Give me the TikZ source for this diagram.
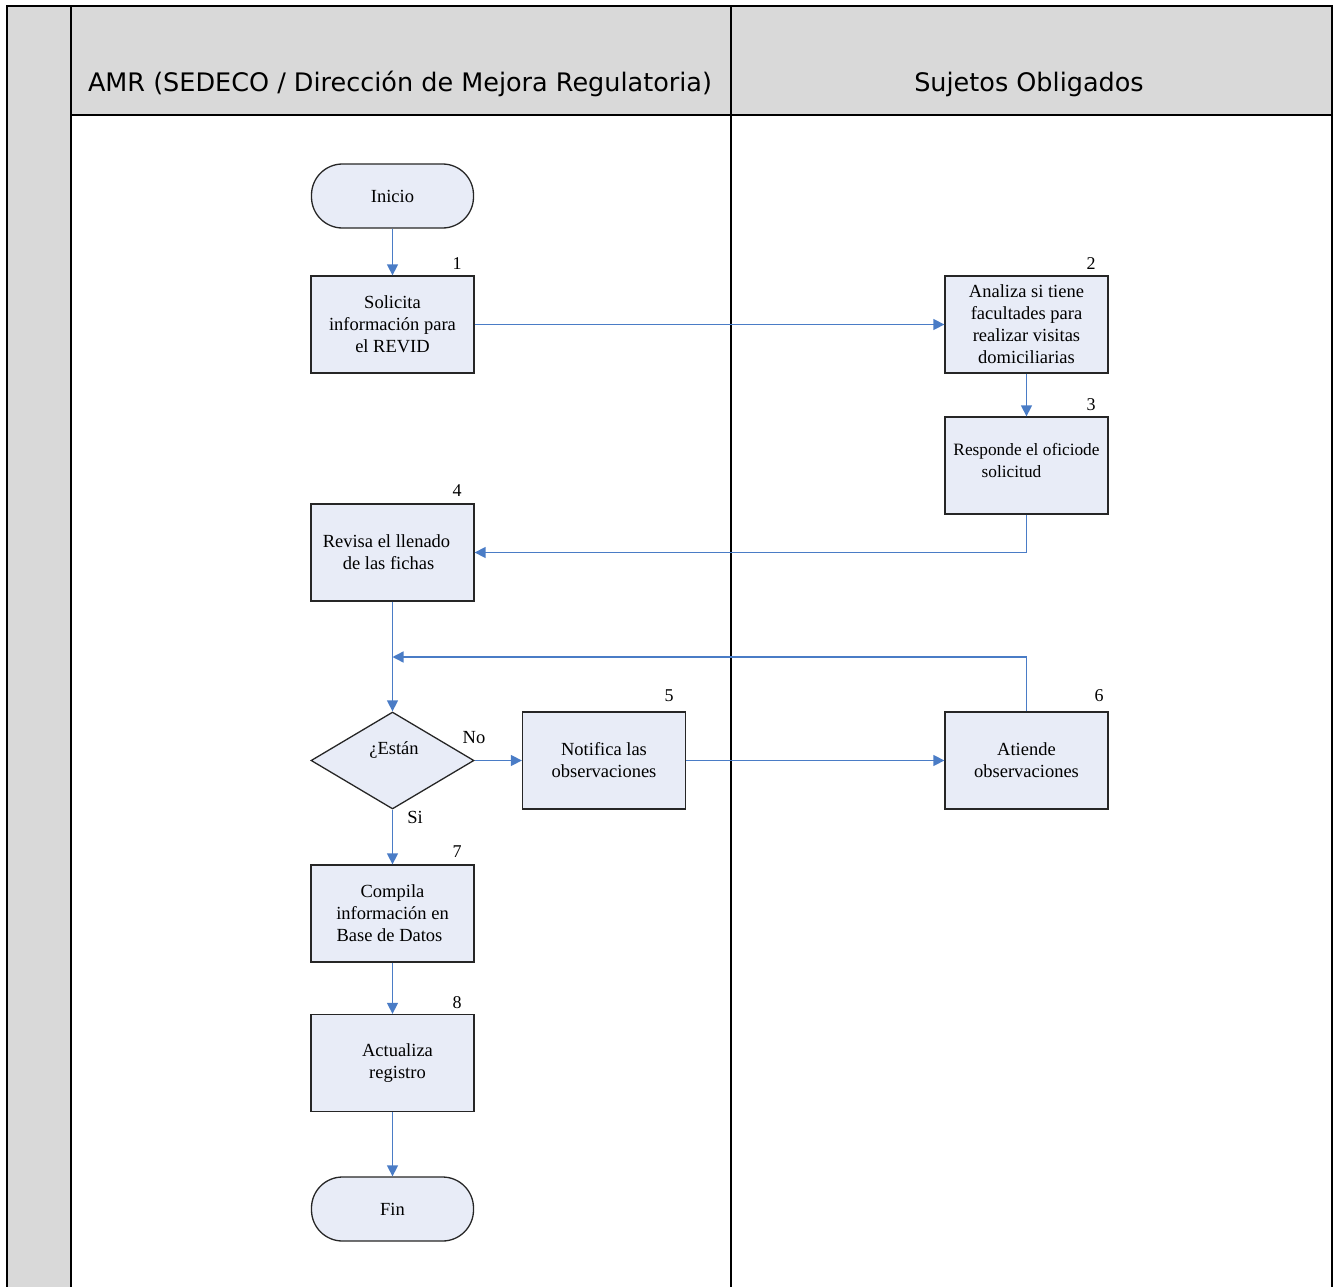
\documentclass[tikz,border=0pt]{standalone}
\usepackage{fontspec}
\setmainfont{Liberation Serif}
\newfontfamily\hdrfont{DejaVu Sans}
\usetikzlibrary{arrows.meta,shapes.geometric}
\definecolor{lanegray}{HTML}{D9D9D9}
\definecolor{boxfill}{HTML}{E8ECF7}
\definecolor{flowblue}{HTML}{4A7CC6}
\tikzset{
  procbox/.style={draw=black!85, line width=1.3pt, fill=boxfill, minimum width=163pt, minimum height=97pt, inner sep=2pt, align=center, font=\fontsize{18.5}{22}\selectfont},
  termbox/.style={draw=black!85, line width=1.3pt, fill=boxfill, rounded corners=31pt, minimum width=162pt, minimum height=64pt, font=\fontsize{18.5}{22}\selectfont},
  decbox/.style={diamond, draw=black!85, line width=1.3pt, fill=boxfill, minimum width=163pt, minimum height=97pt, inner sep=0pt},
  numlbl/.style={font=\fontsize{18}{18}\selectfont, inner sep=0pt},
  txtlbl/.style={font=\fontsize{18.5}{22}\selectfont, inner sep=0pt, align=center},
  flow/.style={draw=flowblue, line width=1.4pt, -{Triangle[length=11pt,width=11pt]}},
  hdr/.style={font=\hdrfont\fontsize{25.5}{28}\selectfont, inner sep=0pt},
}
\begin{document}
\begin{tikzpicture}[x=1pt,y=-1pt]
\useasboundingbox (0,0) rectangle (1333,1287);
% lanes
\fill[lanegray] (7,6) rectangle (71,1287);
\fill[lanegray] (71,6) rectangle (1332,115);
\draw[line width=1.8pt] (7,1287) -- (7,6) -- (1332,6) -- (1332,1287);
\draw[line width=1.8pt] (71,6) -- (71,1287);
\draw[line width=1.8pt] (731,6) -- (731,1287);
\draw[line width=1.5pt] (71,115) -- (1332,115);
\node[hdr] (h1) at (400,84) {AMR (SEDECO / Dirección de Mejora Regulatoria)};
\node[hdr] (h2) at (1029,84) {Sujetos Obligados};
% nodes
\node[termbox] (ini) at (392.5,196) {Inicio};
\node[procbox] (b1) at (392.5,324.5) {Solicita\\información para\\el REVID};
\node[procbox] (b2) at (1026.5,324.5) {Analiza si tiene\\facultades para\\realizar visitas\\domiciliarias};
\node[procbox, text depth=10pt, font=\fontsize{17.3}{22}\selectfont] (b3) at (1026.5,465.5) {Responde el oficiode\\solicitud\hspace*{30pt}};
\node[procbox] (b4) at (392.5,552.5) {Revisa el llenado\hspace*{12pt}\\de las fichas\hspace*{8pt}};
\node[decbox] (d) at (392.5,760.5) {};
\node[txtlbl] (dt) at (394,750) {¿Están};
\node[procbox] (b5) at (604,760.5) {Notifica las\\observaciones};
\node[procbox] (b6) at (1026.5,760.5) {Atiende\\observaciones};
\node[procbox] (b7) at (392.5,913.5) {Compila\\información en\\Base de Datos\hspace*{6pt}};
\node[procbox] (b8) at (392.5,1063) {\hspace*{10pt}Actualiza\\\hspace*{10pt}registro};
\node[termbox] (fin) at (392.5,1209) {Fin};
% numbers
\node[numlbl] (n1) at (457,264) {1};
\node[numlbl] (n2) at (1091,264) {2};
\node[numlbl] (n3) at (1091,405) {3};
\node[numlbl] (n4) at (457,491) {4};
\node[numlbl] (n5) at (669,696) {5};
\node[numlbl] (n6) at (1099,696) {6};
\node[numlbl] (n7) at (457,852) {7};
\node[numlbl] (n8) at (457,1003) {8};
% connectors
\coordinate (j) at (392.5,657);
\draw[flow] (ini) -- (b1);
\draw[flow] (b1) -- (b2);
\draw[flow] (b2) -- (b3);
\draw[flow] (b3.south) |- (b4.east);
\draw[flow] (b4) -- (d);
\draw[flow] (b6.north) |- (j);
\draw[flow] (d.east) -- (b5.west);
\draw[flow] (b5) -- (b6);
\draw[flow] (d.south) -- (b7.north);
\draw[flow] (b7) -- (b8);
\draw[flow] (b8) -- (fin);
\node[txtlbl] (no) at (474,738) {No};
\node[txtlbl] (si) at (415,817) {Si};
\end{tikzpicture}
\end{document}
